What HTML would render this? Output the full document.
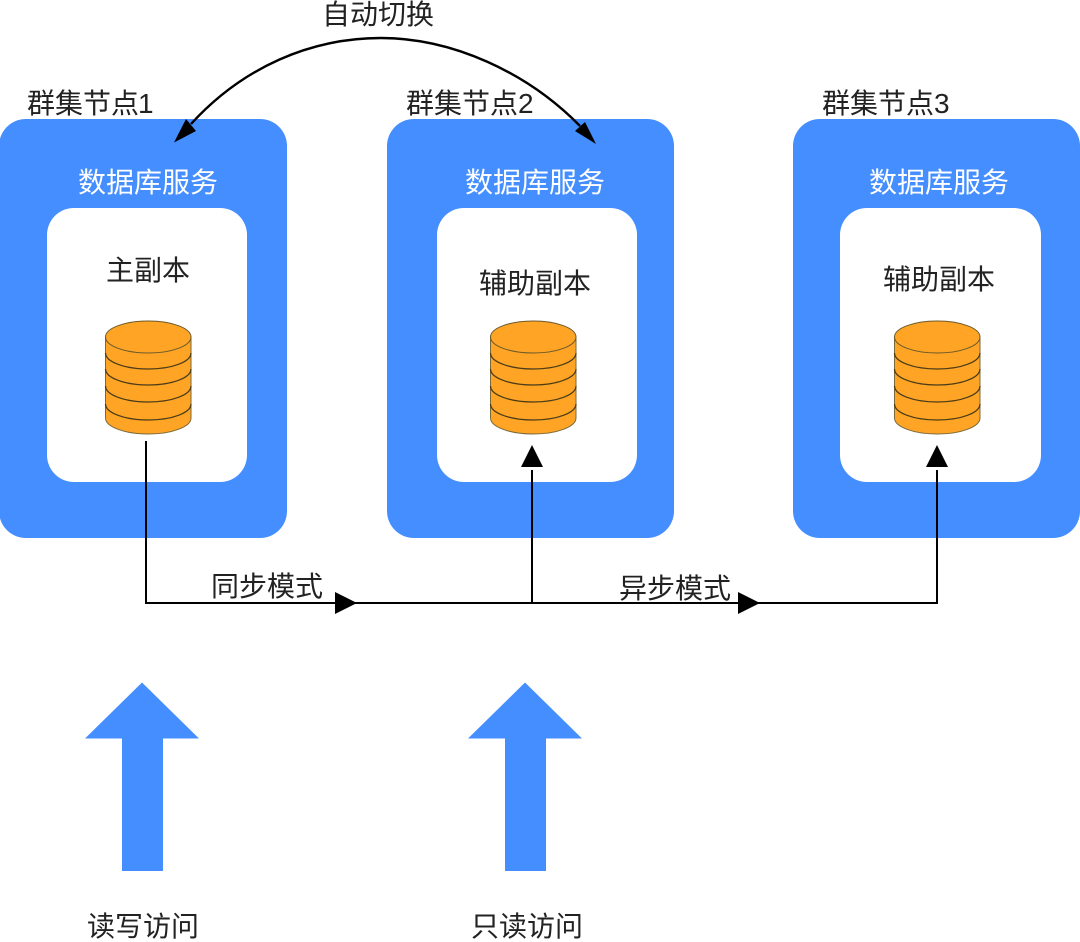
<!DOCTYPE html>
<html><head><meta charset="utf-8">
<style>
html,body{margin:0;padding:0;background:#fff;width:1080px;height:942px;overflow:hidden}
svg{display:block}
text{font-family:"Liberation Sans","Noto Sans CJK SC",sans-serif;font-size:28px;fill:#222}
text.w{fill:#fff;text-anchor:middle}
.m{text-anchor:middle}
</style></head><body>
<svg width="1080" height="942" viewBox="0 0 1080 942" xmlns="http://www.w3.org/2000/svg">
<defs>
<g id="db">
<path d="M105.500 337V418A42.750 16 0 0 0 191 418V337Z" fill="#ffa425" stroke="#7a6a3a" stroke-width="1"/>
<path d="M105.500 404A42.750 16 0 0 0 191 404" fill="none" stroke="#4a3c18" stroke-width="1.300"/>
<path d="M105.500 386A42.750 16 0 0 0 191 386" fill="none" stroke="#4a3c18" stroke-width="1.300"/>
<path d="M105.500 369A42.750 16 0 0 0 191 369" fill="none" stroke="#4a3c18" stroke-width="1.300"/>
<path d="M105.500 353A42.750 16 0 0 0 191 353" fill="none" stroke="#4a3c18" stroke-width="1.300"/>
<ellipse cx="148.250" cy="337" rx="42.750" ry="16" fill="#ffa425" stroke="#6b5a2a" stroke-width="1"/>
</g>
</defs>
<rect x="-1" y="119" width="288" height="419" rx="27" fill="#448eff"/>
<rect x="387" y="119" width="287" height="419" rx="27" fill="#448eff"/>
<rect x="793" y="119" width="287" height="419" rx="27" fill="#448eff"/>
<rect x="47" y="208" width="200" height="274" rx="27" fill="#fff"/>
<rect x="437" y="208" width="200" height="274" rx="27" fill="#fff"/>
<rect x="840" y="208" width="201" height="274" rx="27" fill="#fff"/>
<use href="#db"/>
<use href="#db" x="385"/>
<use href="#db" x="789"/>
<text x="27" y="113">群集节点<tspan dx="-1">1</tspan></text>
<text x="406" y="113">群集节点2</text>
<text x="822" y="113">群集节点3</text>
<text x="322" y="24">自动切换</text>
<text class="w" x="148" y="192">数据库服务</text>
<text class="w" x="535" y="192">数据库服务</text>
<text class="w" x="939" y="192">数据库服务</text>
<text class="m" x="148" y="280">主副本</text>
<text class="m" x="535" y="293">辅助副本</text>
<text class="m" x="939" y="289">辅助副本</text>
<text x="211" y="596">同步模式</text>
<text x="619" y="598">异步模式</text>
<text class="m" x="143" y="936">读写访问</text>
<text class="m" x="527" y="936">只读访问</text>
<path d="M146 441V603H937V470M532 603V470" fill="none" stroke="#000" stroke-width="2"/>
<path d="M335 592L357 603L335 614Z" fill="#000"/>
<path d="M738 592L760 603L738 614Z" fill="#000"/>
<path d="M521 467L532 445L543 467Z" fill="#000"/>
<path d="M926 467L937 445L948 467Z" fill="#000"/>
<path d="M191 124C243 67 311 38 381 38C452 38 527 72 580 126" fill="none" stroke="#000" stroke-width="2.400"/>
<path d="M174 142.500L186 119L196 131Z" fill="#000"/>
<path d="M596 144L575 131L585 122Z" fill="#000"/>
<path d="M85 738.500H122V871H163V738.500H199L142 682.500Z" fill="#448eff"/>
<path d="M468 738.500H505V871H546V738.500H582L525 682.500Z" fill="#448eff"/>
</svg>
</body></html>
